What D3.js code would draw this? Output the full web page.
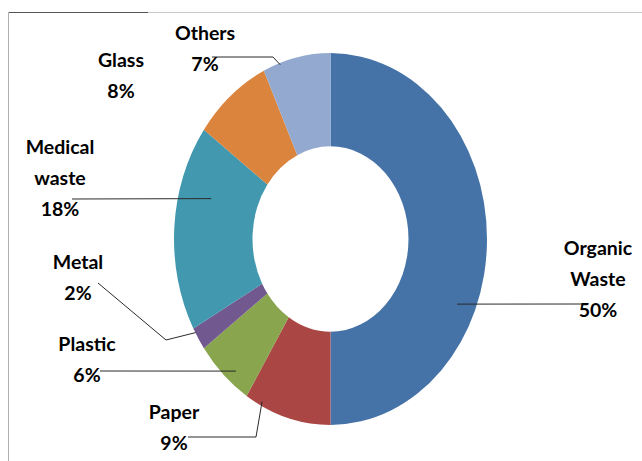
<!DOCTYPE html>
<html>
<head>
<meta charset="utf-8">
<script src="https://cdn.jsdelivr.net/npm/d3@7"></script>
<style>
  html, body { margin: 0; padding: 0; background: #fff; }
  svg { display: block; }
</style>
</head>
<body>
<svg id="chart" width="642" height="461"></svg>
<script>
// ---- data ----
const categories = ["Organic Waste", "Paper", "Plastic", "Metal", "Medical waste", "Glass", "Others"];
const values = [50, 9, 6, 2, 18, 8, 7];
const labelLines = [["Organic", "Waste", "50%"], ["Paper", "9%"], ["Plastic", "6%"], ["Metal", "2%"], ["Medical", "waste", "18%"], ["Glass", "8%"], ["Others", "7%"]];
const colors = ["#4572A7", "#AA4643", "#89A54E", "#71588F", "#4198AF", "#DB843D", "#93A9CF"];

// ---- layout (label placement, not data) ----
const W = 642, H = 461;
const cx = 330.5, cy = 239, rOuter = 156.5, rInner = 78, yStretch = 1.188;
const labelLayout = [
  { x: 598, y: 255, line: [[582, 304]], t: 0.63, r: 138 },
  { x: 174, y: 419, line: [[188, 437], [256, 437]], t: 0.82, r: 153 },
  { x: 87, y: 351, line: [[100, 371]], t: 0.37, r: 146 },
  { x: 78, y: 269, line: [[98, 283], [166, 340]], t: 0.79, r: 156 },
  { x: 60, y: 154, line: [[72, 199]], t: 0.69, r: 124 },
  { x: 121, y: 67, line: null },
  { x: 205, y: 40, line: [[212, 57], [273, 57]], t: 0.25, r: 155 }
];
const lineGap = 31;

const svg = d3.select("#chart");

// frame
svg.append("line").attr("x1", 8).attr("y1", 12.5).attr("x2", W).attr("y2", 12.5)
  .attr("stroke", "#c8c8c8").attr("stroke-width", 1);
svg.append("line").attr("x1", 8).attr("y1", 12.5).attr("x2", 148).attr("y2", 12.5)
  .attr("stroke", "#555").attr("stroke-width", 1);
svg.append("line").attr("x1", 8.5).attr("y1", 12).attr("x2", 8.5).attr("y2", H)
  .attr("stroke", "#b0b0b0").attr("stroke-width", 1);

const pie = d3.pie().sort(null).value(d => d)(values);
const arc = d3.arc().innerRadius(rInner).outerRadius(rOuter);

const g = svg.append("g").attr("transform", `translate(${cx},${cy}) scale(1,${yStretch})`);
g.selectAll("path").data(pie).join("path")
  .attr("d", arc)
  .attr("fill", (d, i) => colors[i]);

// point inside a slice (screen coords)
function slicePoint(d, t, r) {
  const a = d.startAngle + t * (d.endAngle - d.startAngle);
  return [cx + r * Math.sin(a), cy - r * Math.cos(a) * yStretch];
}

// leader lines
const lineGen = d3.line();
pie.forEach((d, i) => {
  const L = labelLayout[i];
  if (!L.line) return;
  const pts = L.line.concat([slicePoint(d, L.t, L.r)]);
  svg.append("path").attr("d", lineGen(pts))
    .attr("fill", "none").attr("stroke", "#2a2a2a").attr("stroke-width", 1);
});

// labels
pie.forEach((d, i) => {
  const L = labelLayout[i];
  const txt = svg.append("text")
    .attr("text-anchor", "middle")
    .attr("font-family", "Lato, 'Liberation Sans', sans-serif")
    .attr("font-weight", "bold")
    .attr("font-size", 19.5)
    .attr("fill", "#000");
  labelLines[i].forEach((s, k) => {
    txt.append("tspan").attr("x", L.x).attr("y", L.y + k * lineGap).text(s);
  });
});
</script>
</body>
</html>
